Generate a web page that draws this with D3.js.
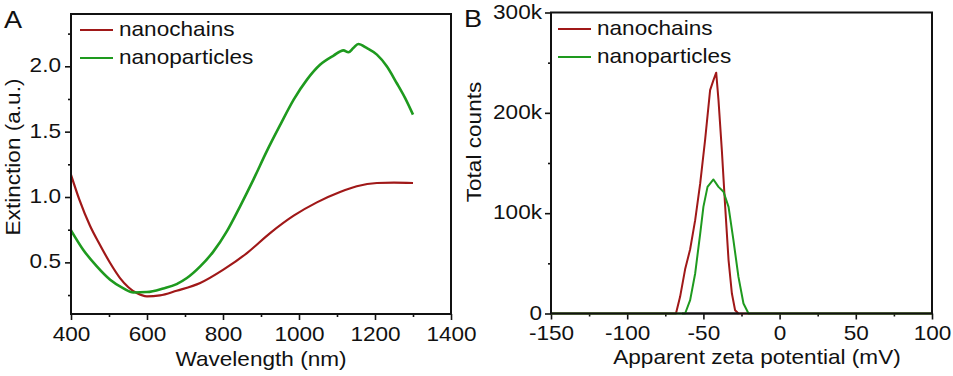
<!DOCTYPE html>
<html>
<head>
<meta charset="utf-8"/>
<title>Extinction and zeta potential</title>
<script src="https://cdn.jsdelivr.net/npm/d3@7/dist/d3.min.js"></script>
<style>
  html, body { margin:0; padding:0; background:#fff; }
  svg { display:block; }
  text { font-family:"Liberation Sans", Arial, sans-serif; fill:#111; }
</style>
</head>
<body>
<svg id="chart" width="953" height="376"></svg>
<script>
// ---- data ----
// panel A: extinction spectra
const chainsWl   = [400, 422, 450, 476, 503, 529, 551, 573, 600, 634, 678, 740, 801, 863, 924, 986, 1047, 1108, 1152, 1205, 1250, 1300];
const chainsExt  = [1.17, 0.98, 0.78, 0.635, 0.495, 0.38, 0.31, 0.265, 0.24, 0.247, 0.283, 0.342, 0.444, 0.571, 0.724, 0.857, 0.959, 1.038, 1.082, 1.107, 1.11, 1.107];
const partWl     = [400, 432, 468, 503, 538, 564, 600, 643, 678, 705, 740, 775, 810, 845, 880, 915, 951, 986, 1021, 1056, 1091, 1117, 1130, 1143, 1156, 1178, 1205, 1231, 1257, 1279, 1300];
const partExt    = [0.745, 0.597, 0.469, 0.367, 0.301, 0.27, 0.273, 0.301, 0.334, 0.38, 0.469, 0.584, 0.737, 0.929, 1.133, 1.349, 1.554, 1.745, 1.898, 2.013, 2.082, 2.122, 2.107, 2.14, 2.171, 2.14, 2.089, 2.0, 1.872, 1.758, 1.63];
const extTicks   = [0.5, 1.0, 1.5, 2.0];
const wlTicks    = [400, 600, 800, 1000, 1200, 1400];

// panel B: zeta potential distributions (counts in thousands)
const chainsZeta = [-150, -68, -65.3, -62, -58.7, -55.4, -52.1, -48.9, -45.6, -43.4, -41.6, -40.1, -37.9, -35.7, -33.5, -31.3, -29.2, -27, 100];
const chainsCnt  = [0, 0, 16.6, 44, 64, 93, 129.6, 172.8, 222.6, 232.6, 240, 212.6, 162.8, 106.3, 53.2, 19.9, 3.3, 0, 0];
const partZeta   = [-150, -62, -58.7, -55.4, -52.1, -50, -47.3, -43.4, -40.1, -36.8, -33.5, -30.3, -27, -23.7, -20.4, 100];
const partCnt    = [0, 0, 13.3, 39.9, 79.7, 106.3, 126.2, 133.6, 126.2, 121.3, 106.3, 73.1, 36.5, 10, 0, 0];
const zeroZeta   = [-64, -27];
const zeroCnt    = [0, 0];
const cntTicks   = [0, 100, 200, 300];
const zetaTicks  = [-150, -100, -50, 0, 50, 100];

const seriesNames = ["nanochains", "nanoparticles"];
const RED = "#a01818", GREEN = "#1e9a1e";
const SX = 1.13;   // text in the figure is a bit wider than Arial
const FS = 20;

const svg = d3.select("#chart");

function stretchedText(g, x, y, str, anchor, size) {
  return g.append("text")
    .attr("transform", `translate(${x},${y}) scale(${SX},1)`)
    .attr("text-anchor", anchor || "start")
    .style("font-size", (size || FS) + "px")
    .text(str);
}

function panel(opt) {
  const g = svg.append("g").attr("transform", `translate(${opt.left},${opt.top})`);
  const w = opt.width, h = opt.height;
  const x = d3.scaleLinear().domain(opt.xDomain).range([0, w]);
  const y = d3.scaleLinear().domain(opt.yDomain).range([h, 0]);

  // minor ticks
  g.append("g").attr("transform", `translate(0,${h})`)
    .call(d3.axisBottom(x).tickValues(opt.xMinor).tickSize(3).tickFormat(""))
    .call(a => a.select(".domain").remove());
  g.append("g")
    .call(d3.axisLeft(y).tickValues(opt.yMinor).tickSize(3).tickFormat(""))
    .call(a => a.select(".domain").remove());

  // major ticks
  const xa = g.append("g").attr("transform", `translate(0,${h})`)
    .call(d3.axisBottom(x).tickValues(opt.xTicks).tickSize(6).tickFormat(d => String(d)));
  xa.select(".domain").remove();
  xa.selectAll(".tick text")
    .attr("y", null).attr("dy", null)
    .attr("transform", `translate(0,26.5) scale(${SX},1)`)
    .style("font-size", FS + "px").style("font-family", null);

  const ya = g.append("g")
    .call(d3.axisLeft(y).tickValues(opt.yTicks).tickSize(6).tickFormat(opt.yFormat));
  ya.select(".domain").remove();
  ya.selectAll(".tick text")
    .attr("x", null).attr("dy", null)
    .attr("transform", `translate(${-opt.yPad},5.5) scale(${SX},1)`)
    .style("font-size", FS + "px").style("font-family", null);

  g.selectAll(".tick line").attr("stroke", "#111").attr("stroke-width", 1.6);

  // curves
  opt.series.forEach(s => {
    const pts = s.xs.map((v, i) => [v, s.ys[i]]);
    g.append("path")
      .datum(pts)
      .attr("fill", "none")
      .attr("stroke", s.color)
      .attr("stroke-width", s.width || 2)
      .attr("stroke-linejoin", "round")
      .attr("d", d3.line().curve(opt.curve).x(d => x(d[0])).y(d => y(d[1])));
  });

  // frame
  g.append("rect")
    .attr("width", w).attr("height", h)
    .attr("fill", "none").attr("stroke", "#111").attr("stroke-width", 2);

  // legend
  seriesNames.forEach((n, i) => {
    const ly = opt.legY + i * 28;
    g.append("line")
      .attr("x1", opt.legX).attr("x2", opt.legX + 33)
      .attr("y1", ly).attr("y2", ly)
      .attr("stroke", i === 0 ? RED : GREEN).attr("stroke-width", 2.2);
    stretchedText(g, opt.legX + 39, ly + 6, n);
  });

  return g;
}

panel({
  left: 71, top: 14, width: 380, height: 300,
  xDomain: [400, 1400], yDomain: [0.105, 2.4],
  xTicks: wlTicks, xMinor: d3.range(500, 1400, 200),
  yTicks: extTicks, yMinor: [0.25, 0.75, 1.25, 1.75, 2.25],
  yFormat: d3.format(".1f"), yPad: 10,
  curve: d3.curveMonotoneX,
  legX: 9, legY: 16,
  series: [
    { xs: chainsWl, ys: chainsExt, color: RED, width: 2.2 },
    { xs: partWl, ys: partExt, color: GREEN, width: 2.6 }
  ]
});

panel({
  left: 551, top: 12.5, width: 381, height: 301,
  xDomain: [-150, 100], yDomain: [0, 300],
  xTicks: zetaTicks, xMinor: [-125, -75, -25, 25, 75],
  yTicks: cntTicks, yMinor: [50, 150, 250],
  yFormat: d => d === 0 ? "0" : d + "k", yPad: 9,
  curve: d3.curveLinear,
  legX: 7, legY: 16.5,
  series: [
    { xs: chainsZeta, ys: chainsCnt, color: RED, width: 2 },
    { xs: zeroZeta, ys: zeroCnt, color: "#222", width: 2 },
    { xs: partZeta, ys: partCnt, color: GREEN, width: 2 }
  ]
});

// axis titles and panel letters
stretchedText(svg, 261, 366, "Wavelength (nm)", "middle");
stretchedText(svg, 757, 364, "Apparent zeta potential (mV)", "middle");
svg.append("text")
  .attr("transform", `translate(20,157) rotate(-90) scale(${SX},1)`)
  .attr("text-anchor", "middle").style("font-size", FS + "px")
  .text("Extinction (a.u.)");
svg.append("text")
  .attr("transform", `translate(481,142) rotate(-90) scale(${SX},1)`)
  .attr("text-anchor", "middle").style("font-size", FS + "px")
  .text("Total counts");
stretchedText(svg, 4, 28, "A", "start", 24);
stretchedText(svg, 464, 27, "B", "start", 24);
</script>
</body>
</html>
